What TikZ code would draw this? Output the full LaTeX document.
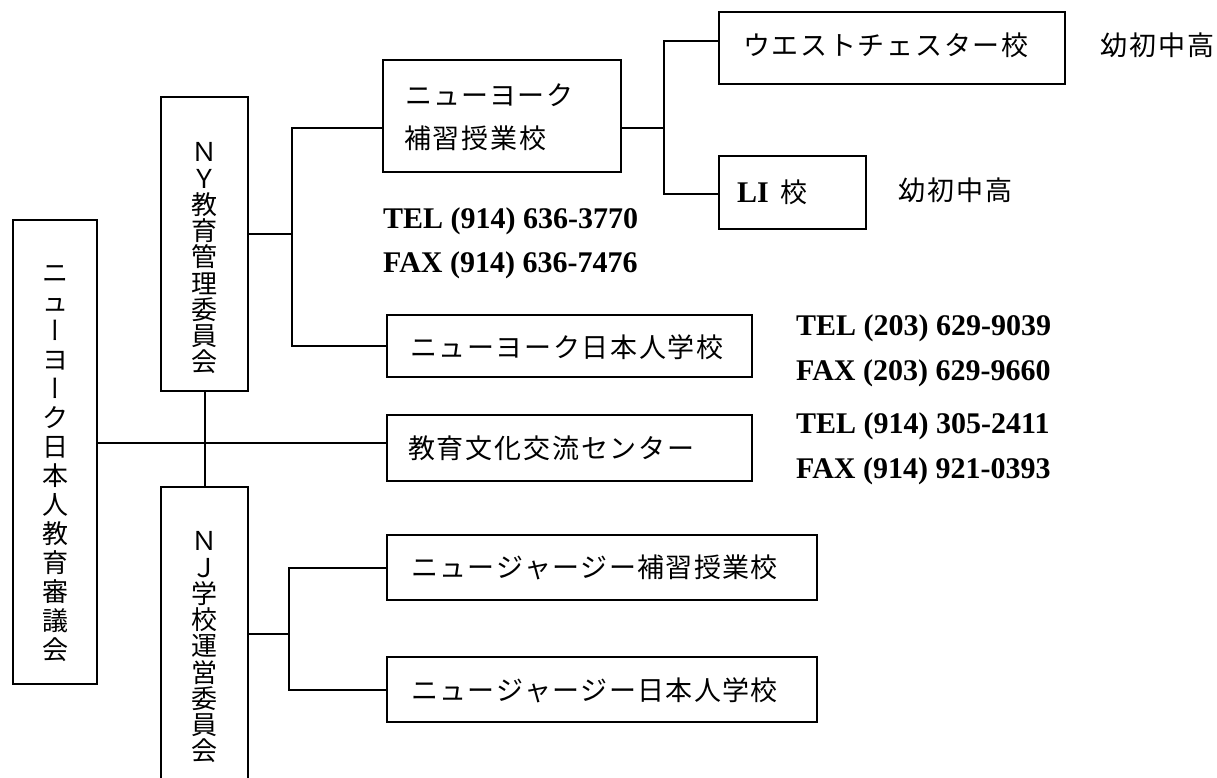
\documentclass[tikz,border=0pt]{standalone}
\usepackage{fontspec}
\setmainfont{Liberation Serif}
\newfontfamily\cjk{Noto Sans CJK JP}
\newfontfamily\cjkvert[RawFeature=+vert]{Noto Sans CJK JP}
\newlength\cpitch
\makeatletter
\def\pitch@loop#1{\ifx#1\relax\else\hbox to\cpitch{#1\hss}\expandafter\pitch@loop\fi}
\newcommand\pitched[2]{\setlength\cpitch{#1}\hbox{\pitch@loop#2\relax}}
\makeatother
\tikzset{
  box/.style={draw, line width=2pt, inner sep=0pt, outer sep=0pt, anchor=north west},
  conn/.style={line width=2pt},
  jtext/.style={font=\cjk\fontsize{27}{27}\selectfont, inner sep=0pt, text height=23.8pt, text depth=3.2pt, anchor=west},
  vch/.style={font=\cjk\fontsize{26}{26}\selectfont, inner sep=0pt, text height=22.9pt, text depth=3.1pt, anchor=center},
  phone/.style={font=\bfseries\fontsize{30}{30}\selectfont, inner sep=0pt, anchor=base west}
}
\begin{document}
\begin{tikzpicture}[x=1pt,y=-1pt]
\useasboundingbox (0,0) rectangle (1217,778);
\clip (0,0) rectangle (1217,778);
% boxes
\node[box, minimum width=84, minimum height=464] (council) at (13,220) {};
\node[box, minimum width=87, minimum height=294] (nyc) at (161,97) {};
\node[box, minimum width=87, minimum height=320] (njc) at (161,487) {};
\node[box, minimum width=238, minimum height=112] (nyh) at (383,60) {};
\node[box, minimum width=346, minimum height=72] (wc) at (719,12) {};
\node[box, minimum width=147, minimum height=73] (li) at (719,156) {};
\node[box, minimum width=365, minimum height=62] (nyj) at (387,315) {};
\node[box, minimum width=365, minimum height=66] (ctr) at (387,415) {};
\node[box, minimum width=430, minimum height=65] (njh) at (387,535) {};
\node[box, minimum width=430, minimum height=65] (njj) at (387,657) {};
% vertical texts
\foreach \c [count=\i from 0] in {ニ,ュ,{\cjkvert ー},ヨ,{\cjkvert ー},ク,日,本,人,教,育,審,議,会}
  \node[vch] (cv\i) at (55,{273+29*\i}) {\c};
\foreach \c [count=\i from 0] in {Ｎ,Ｙ,教,育,管,理,委,員,会}
  \node[vch] (nyv\i) at (204,{152+26.25*\i}) {\c};
\foreach \c [count=\i from 0] in {Ｎ,Ｊ,学,校,運,営,委,員,会}
  \node[vch] (njv\i) at (204,{541+26.25*\i}) {\c};
% horizontal texts
\node[jtext] (nyht1) at (405,95) {\pitched{28.2pt}{ニューヨーク}};
\node[jtext] (nyht2) at (404,138) {\pitched{28.8pt}{補習授業校}};
\node[jtext] (wct) at (743,45) {\pitched{28.7pt}{ウエストチェスター校}};
\node[jtext] (wcg) at (1100,45) {\pitched{29.2pt}{幼初中高}};
\node[inner sep=0pt, anchor=base west] (lit) at (737,202) {{\bfseries\fontsize{30}{30}\selectfont LI}\hspace{12pt}{\cjk\fontsize{27}{27}\selectfont 校}};
\node[jtext] (lig) at (898,190) {\pitched{29pt}{幼初中高}};
\node[jtext] (nyjt) at (410,347) {\pitched{28.6pt}{ニューヨーク日本人学校}};
\node[jtext] (ctrt) at (408,448) {\pitched{28.8pt}{教育文化交流センター}};
\node[jtext] (njht) at (411,567) {\pitched{28.3pt}{ニュージャージー補習授業校}};
\node[jtext] (njjt) at (411,690) {\pitched{28.3pt}{ニュージャージー日本人学校}};
% phone numbers
\node[phone] (tel1) at (383,228) {TEL (914) 636-3770};
\node[phone] (fax1) at (383,272) {FAX (914) 636-7476};
\node[phone] (tel2) at (796,335) {TEL (203) 629-9039};
\node[phone] (fax2) at (796,380) {FAX (203) 629-9660};
\node[phone] (tel3) at (796,433) {TEL (914) 305-2411};
\node[phone] (fax3) at (796,478) {FAX (914) 921-0393};
% connectors
\coordinate (j1) at (292,234);
\coordinate (b1top) at (292,128);
\coordinate (b1bot) at (292,346);
\draw[conn] (nyc.east |- j1) -- (j1);
\draw[conn] (nyh.west |- b1top) -- (b1top) -- (b1bot) -- (nyj.west |- b1bot);
\coordinate (b2mid) at (664,128);
\coordinate (b2top) at (664,41);
\coordinate (b2bot) at (664,194);
\draw[conn] (nyh.east |- b2mid) -- (b2mid);
\draw[conn] (wc.west |- b2top) -- (b2top) -- (b2bot) -- (li.west |- b2bot);
\draw[conn] (nyc.south) -- (njc.north);
\coordinate (cross) at (204,443);
\draw[conn] (council.east |- cross) -- (ctr.west |- cross);
\coordinate (b3mid) at (289,634);
\coordinate (b3top) at (289,567.5);
\coordinate (b3bot) at (289,689.5);
\draw[conn] (njc.east |- b3mid) -- (b3mid);
\draw[conn] (njh.west) -- (b3top) -- (b3bot) -- (njj.west);
\end{tikzpicture}
\end{document}
